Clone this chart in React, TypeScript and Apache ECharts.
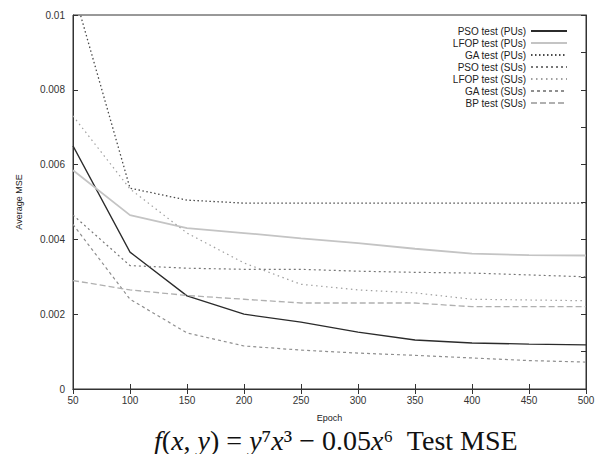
import React, { useEffect, useRef } from "react";
import * as echarts from "echarts";

const epochs = [50, 100, 150, 200, 250, 300, 350, 400, 450, 500];

const psoPUs = [0.0065, 0.00366, 0.00249, 0.0020, 0.00179, 0.00152, 0.00131, 0.00123, 0.0012, 0.00118];
const lfopPUs = [0.00585, 0.00465, 0.0043, 0.00417, 0.00403, 0.0039, 0.00375, 0.00362, 0.00358, 0.00357];
const gaPUs = [0.0107, 0.00537, 0.00505, 0.00497, 0.00497, 0.00497, 0.00497, 0.00497, 0.00497, 0.00497];
const psoSUs = [0.00465, 0.0033, 0.00323, 0.0032, 0.0032, 0.00315, 0.00312, 0.0031, 0.00305, 0.003];
const lfopSUs = [0.0073, 0.00535, 0.00417, 0.00337, 0.0028, 0.00265, 0.00257, 0.0024, 0.00238, 0.00236];
const gaSUs = [0.0044, 0.0024, 0.0015, 0.00115, 0.00104, 0.00096, 0.0009, 0.00083, 0.00076, 0.00072];
const bpSUs = [0.0029, 0.00265, 0.0025, 0.0024, 0.0023, 0.0023, 0.0023, 0.0022, 0.0022, 0.0022];

const seriesNames = [
  "PSO test (PUs)",
  "LFOP test (PUs)",
  "GA test (PUs)",
  "PSO test (SUs)",
  "LFOP test (SUs)",
  "GA test (SUs)",
  "BP test (SUs)",
];
const seriesValues = [psoPUs, lfopPUs, gaPUs, psoSUs, lfopSUs, gaSUs, bpSUs];

const lineStyles: any[] = [
  { color: "#2b2b2b", width: 1.3, type: "solid" },
  { color: "#c4c4c4", width: 1.8, type: "solid" },
  { color: "#4a4a4a", width: 1.3, type: [1.5, 2.5] },
  { color: "#777777", width: 1.2, type: [2, 3] },
  { color: "#a0a0a0", width: 1.2, type: [1.5, 3.5] },
  { color: "#8f8f8f", width: 1.2, type: [3, 3] },
  { color: "#b0b0b0", width: 1.3, type: [6, 3] },
];

const font = "Liberation Sans, Arial, sans-serif";

export default function App() {
  const ref = useRef<HTMLDivElement>(null);
  useEffect(() => {
    if (!ref.current) return;
    const chart = echarts.init(ref.current, null, { renderer: "svg" });
    const axisLine = { show: true, lineStyle: { color: "#333", width: 1 } };
    chart.setOption({
      animation: false,
      backgroundColor: "#fff",
      grid: {
        left: 73,
        right: 20,
        top: 15,
        bottom: 73,
        show: true,
        borderColor: "#333",
        borderWidth: 1,
      },
      legend: {
        orient: "vertical",
        align: "right",
        right: 33,
        top: 21,
        itemWidth: 36,
        itemHeight: 10,
        itemGap: 2,
        itemStyle: { opacity: 0, borderWidth: 0 },
        textStyle: { fontFamily: font, fontSize: 10, color: "#222" },
        data: seriesNames,
      },
      xAxis: [
        {
          type: "value",
          min: 50,
          max: 500,
          interval: 50,
          name: "Epoch",
          nameLocation: "middle",
          nameGap: 24,
          nameTextStyle: { fontFamily: font, fontSize: 9, color: "#222" },
          axisLine,
          axisTick: { show: true, inside: true, length: 5, lineStyle: { color: "#333" } },
          axisLabel: { fontFamily: font, fontSize: 10, color: "#333", margin: 6 },
          splitLine: { show: false },
        },
        {
          type: "value",
          position: "top",
          min: 50,
          max: 500,
          interval: 50,
          axisLine,
          axisTick: { show: true, inside: true, length: 5, lineStyle: { color: "#333" } },
          axisLabel: { show: false },
          splitLine: { show: false },
        },
      ],
      yAxis: [
        {
          type: "value",
          min: 0,
          max: 0.01,
          interval: 0.002,
          name: "Average MSE",
          nameLocation: "middle",
          nameGap: 50,
          nameTextStyle: { fontFamily: font, fontSize: 9, color: "#222" },
          axisLine,
          axisTick: { show: true, inside: true, length: 5, lineStyle: { color: "#333" } },
          axisLabel: { fontFamily: font, fontSize: 10, color: "#333", margin: 8 },
          splitLine: { show: false },
        },
        {
          type: "value",
          position: "right",
          min: 0,
          max: 0.01,
          interval: 0.001,
          axisLine,
          axisTick: { show: true, inside: true, length: 5, lineStyle: { color: "#333" } },
          axisLabel: { show: false },
          splitLine: { show: false },
        },
      ],
      series: seriesNames.map((name, i) => ({
        name,
        type: "line",
        xAxisIndex: 0,
        yAxisIndex: 0,
        symbol: "none",
        showSymbol: false,
        clip: true,
        lineStyle: lineStyles[i],
        itemStyle: { color: lineStyles[i].color },
        data: epochs.map((e, j) => [e, seriesValues[i][j]]),
      })),
      graphic: [
        {
          type: "text",
          x: 336,
          y: 440,
          style: {
            text:
              "{i|f}{r|(}{i|x}{r|, }{i|y}{r|) = }{i|y}{r|⁷}{i|x}{r|³ − 0.05}{i|x}{r|⁶  Test MSE}",
            align: "center",
            verticalAlign: "middle",
            fill: "#111",
            rich: {
              i: { fontFamily: "Liberation Serif, serif", fontStyle: "italic", fontSize: 28, fill: "#111" },
              r: { fontFamily: "Liberation Serif, serif", fontSize: 28, fill: "#111" },
            },
          },
        },
      ],
    });
    return () => chart.dispose();
  }, []);
  return <div ref={ref} style={{ width: 606, height: 462, margin: -8 }} />;
}
